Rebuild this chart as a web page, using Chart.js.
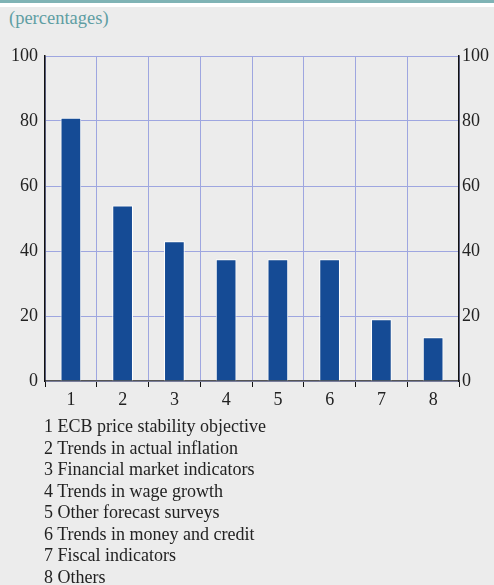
<!DOCTYPE html>
<html>
<head>
<meta charset="utf-8">
<script src="https://cdn.jsdelivr.net/npm/chart.js@4"></script>
<style>
  html, body { margin: 0; padding: 0; }
  body { width: 494px; height: 585px; background: #ececec; position: relative; overflow: hidden; font-family: "Liberation Serif", serif; }
  .topbar { position: absolute; left: 0; top: 0; width: 494px; height: 3px; background: #7fb3b5; }
  .gap { position: absolute; left: 0; top: 3px; width: 494px; height: 4px; background: #fff; }
  .unit { position: absolute; left: 9px; top: 8px; font-size: 18.5px; color: #5f9ea3; }
  .wrap { position: absolute; left: 0; top: 0; width: 494px; height: 420px; }
  .notes { position: absolute; left: 44px; top: 416px; font-size: 18px; line-height: 21.5px; color: #222; }
</style>
</head>
<body>
<div class="topbar"></div>
<div class="gap"></div>
<div class="unit">(percentages)</div>
<div class="wrap"><canvas id="factorsChart" width="494" height="420"></canvas></div>
<div class="notes" id="notes"></div>
<script>
// data
const categories = ['1', '2', '3', '4', '5', '6', '7', '8'];
const shares = [81, 54, 43, 37.5, 37.5, 37.5, 19, 13.5];
const descriptions = [
  'ECB price stability objective',
  'Trends in actual inflation',
  'Financial market indicators',
  'Trends in wage growth',
  'Other forecast surveys',
  'Trends in money and credit',
  'Fiscal indicators',
  'Others'
];
const yTicks = [0, 20, 40, 60, 80, 100];

// numbered list under the chart
const notes = document.getElementById('notes');
categories.forEach((c, i) => {
  const d = document.createElement('div');
  d.textContent = c + ' ' + descriptions[i];
  notes.appendChild(d);
});

const tickFont = { family: 'Liberation Serif', size: 18 };
const gridBlue = '#9ea6e0';

const ctx = document.getElementById('factorsChart').getContext('2d');
new Chart(ctx, {
  type: 'bar',
  data: {
    labels: categories,
    datasets: [{
      data: shares,
      backgroundColor: '#154b95',
      borderColor: '#ffffff',
      borderWidth: 1,
      barPercentage: 0.4,
      categoryPercentage: 1
    }]
  },
  options: {
    responsive: false,
    animation: false,
    devicePixelRatio: 1,
    layout: { padding: { top: 56, left: 0, right: 0, bottom: 0 } },
    plugins: { legend: { display: false }, tooltip: { enabled: false } },
    scales: {
      x: {
        offset: true,
        grid: { offset: true, color: gridBlue, tickColor: '#111', tickLength: 6, lineWidth: 1 },
        border: { display: true, color: '#555', width: 1.5 },
        ticks: { color: '#222', font: tickFont, padding: 2 },
        afterFit: s => { s.height = 39; }
      },
      y: {
        min: 0,
        max: 100,
        afterBuildTicks: s => { s.ticks = yTicks.map(v => ({ value: v })); },
        grid: { color: gridBlue, drawTicks: false },
        border: { display: true, color: '#111', width: 1.5 },
        ticks: { color: '#222', font: tickFont, padding: 7 },
        afterFit: s => { s.width = 45; }
      },
      y2: {
        position: 'right',
        min: 0,
        max: 100,
        afterBuildTicks: s => { s.ticks = yTicks.map(v => ({ value: v })); },
        grid: { drawOnChartArea: false, drawTicks: false },
        border: { display: true, color: '#111', width: 1.5 },
        ticks: { color: '#222', font: tickFont, padding: 3 },
        afterFit: s => { s.width = 35; }
      }
    }
  }
});
</script>
</body>
</html>
